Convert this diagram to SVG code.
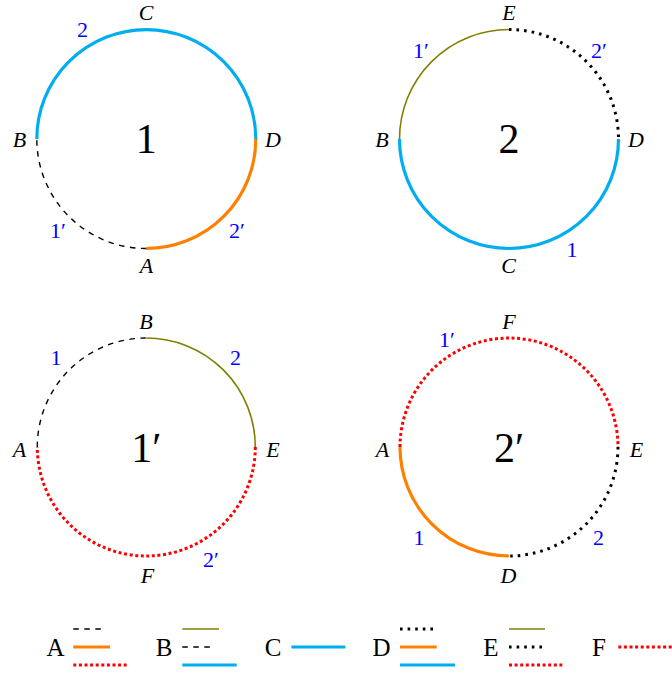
<svg xmlns="http://www.w3.org/2000/svg" width="672" height="675" viewBox="0 0 672 675">
<style>
  .arc { fill: none; }
  .cyan { stroke: #00AEEF; stroke-width: 3.2; }
  .orange { stroke: #FF8000; stroke-width: 3.2; }
  .olive { stroke: #808000; stroke-width: 1.6; }
  .dashed { stroke: #000; stroke-width: 1.4; stroke-dasharray: 5.5 5.5; }
  .bdot { stroke: #000; stroke-width: 3; stroke-dasharray: 2.6 5; }
  .rdot { stroke: #FF0000; stroke-width: 3; stroke-dasharray: 3 2.6; }
  .lab { font-family: "Liberation Serif", "DejaVu Serif", serif; font-style: italic; font-size: 22px; fill: #000; text-anchor: middle; }
  .num { font-family: "Liberation Serif", "DejaVu Serif", serif; font-size: 22px; fill: #0000FF; text-anchor: middle; }
  .big { font-family: "Liberation Serif", "DejaVu Serif", serif; font-size: 42px; fill: #000; text-anchor: middle; }
  .leg { font-family: "Liberation Serif", "DejaVu Serif", serif; font-size: 25px; fill: #000; text-anchor: middle; }
</style>
<rect width="672" height="675" fill="#fff"/>

<g id="circle-1">
  <path class="arc cyan" d="M 36.8 139 A 109.5 109.5 0 0 1 255.8 139"/>
  <path class="arc orange" d="M 255.8 139 A 109.5 109.5 0 0 1 146.3 248.5"/>
  <path class="arc dashed" d="M 146.3 248.5 A 109.5 109.5 0 0 1 36.8 139"/>
  <text class="big" x="146.3" y="153">1</text>
  <text class="lab" x="146" y="20">C</text>
  <text class="lab" x="19.5" y="146.5">B</text>
  <text class="lab" x="273" y="146.5">D</text>
  <text class="lab" x="146.5" y="273">A</text>
  <text class="num" x="82.5" y="37">2</text>
  <text class="num" x="58" y="238">1′</text>
  <text class="num" x="237" y="238">2′</text>
</g>

<g id="circle-2">
  <path class="arc olive" d="M 399.5 139 A 109.5 109.5 0 0 1 509 29.5"/>
  <path class="arc bdot" d="M 509 29.5 A 109.5 109.5 0 0 1 618.5 139"/>
  <path class="arc cyan" d="M 618.5 139 A 109.5 109.5 0 0 1 399.5 139"/>
  <text class="big" x="509" y="153">2</text>
  <text class="lab" x="509" y="20">E</text>
  <text class="lab" x="382" y="146.5">B</text>
  <text class="lab" x="636" y="146.5">D</text>
  <text class="lab" x="508.5" y="273">C</text>
  <text class="num" x="421" y="58">1′</text>
  <text class="num" x="599" y="58">2′</text>
  <text class="num" x="572" y="256.5">1</text>
</g>

<g id="circle-1prime">
  <path class="arc dashed" d="M 37.3 447 A 109 109 0 0 1 146.3 338"/>
  <path class="arc olive" d="M 146.3 338 A 109 109 0 0 1 255.3 447"/>
  <path class="arc rdot" d="M 255.3 447 A 109 109 0 0 1 37.3 447"/>
  <text class="big" x="146.3" y="462">1′</text>
  <text class="lab" x="146" y="329">B</text>
  <text class="lab" x="19.5" y="456.5">A</text>
  <text class="lab" x="273" y="456.5">E</text>
  <text class="lab" x="147.5" y="583">F</text>
  <text class="num" x="56" y="365">1</text>
  <text class="num" x="235.5" y="365">2</text>
  <text class="num" x="211" y="566.5">2′</text>
</g>

<g id="circle-2prime">
  <path class="arc rdot" d="M 400 447 A 109 109 0 0 1 618 447"/>
  <path class="arc bdot" d="M 618 447 A 109 109 0 0 1 509 556"/>
  <path class="arc orange" d="M 509 556 A 109 109 0 0 1 400 447"/>
  <text class="big" x="509" y="462">2′</text>
  <text class="lab" x="509" y="329">F</text>
  <text class="lab" x="382.5" y="456.5">A</text>
  <text class="lab" x="636.5" y="456.5">E</text>
  <text class="lab" x="508.5" y="583">D</text>
  <text class="num" x="447" y="346.5">1′</text>
  <text class="num" x="419" y="545">1</text>
  <text class="num" x="598.5" y="545">2</text>
</g>

<g id="legend-A">
  <text class="leg" x="55.5" y="655.5">A</text>
  <line class="dashed" x1="73.3" y1="629" x2="106" y2="629"/>
  <line class="orange" x1="73.3" y1="647" x2="110" y2="647"/>
  <line class="rdot" x1="73.3" y1="665" x2="127" y2="665"/>
</g>
<g id="legend-B">
  <text class="leg" x="164" y="655.5">B</text>
  <line class="olive" x1="182.3" y1="629" x2="219" y2="629"/>
  <line class="dashed" x1="182.3" y1="647" x2="214.3" y2="647"/>
  <line class="cyan" x1="182.3" y1="665" x2="236.7" y2="665"/>
</g>
<g id="legend-C">
  <text class="leg" x="273" y="655.5">C</text>
  <line class="cyan" x1="291.4" y1="647" x2="345.4" y2="647"/>
</g>
<g id="legend-D">
  <text class="leg" x="381.5" y="655.5">D</text>
  <line class="bdot" x1="400" y1="629" x2="435" y2="629"/>
  <line class="orange" x1="400" y1="647" x2="436.7" y2="647"/>
  <line class="cyan" x1="400" y1="665" x2="455" y2="665"/>
</g>
<g id="legend-E">
  <text class="leg" x="491" y="655.5">E</text>
  <line class="olive" x1="509" y1="629" x2="545" y2="629"/>
  <line class="bdot" x1="509" y1="647" x2="543.3" y2="647"/>
  <line class="rdot" x1="509" y1="665" x2="562.3" y2="665"/>
</g>
<g id="legend-F">
  <text class="leg" x="599" y="655.5">F</text>
  <line class="rdot" x1="618.3" y1="647" x2="672" y2="647"/>
</g>
</svg>
